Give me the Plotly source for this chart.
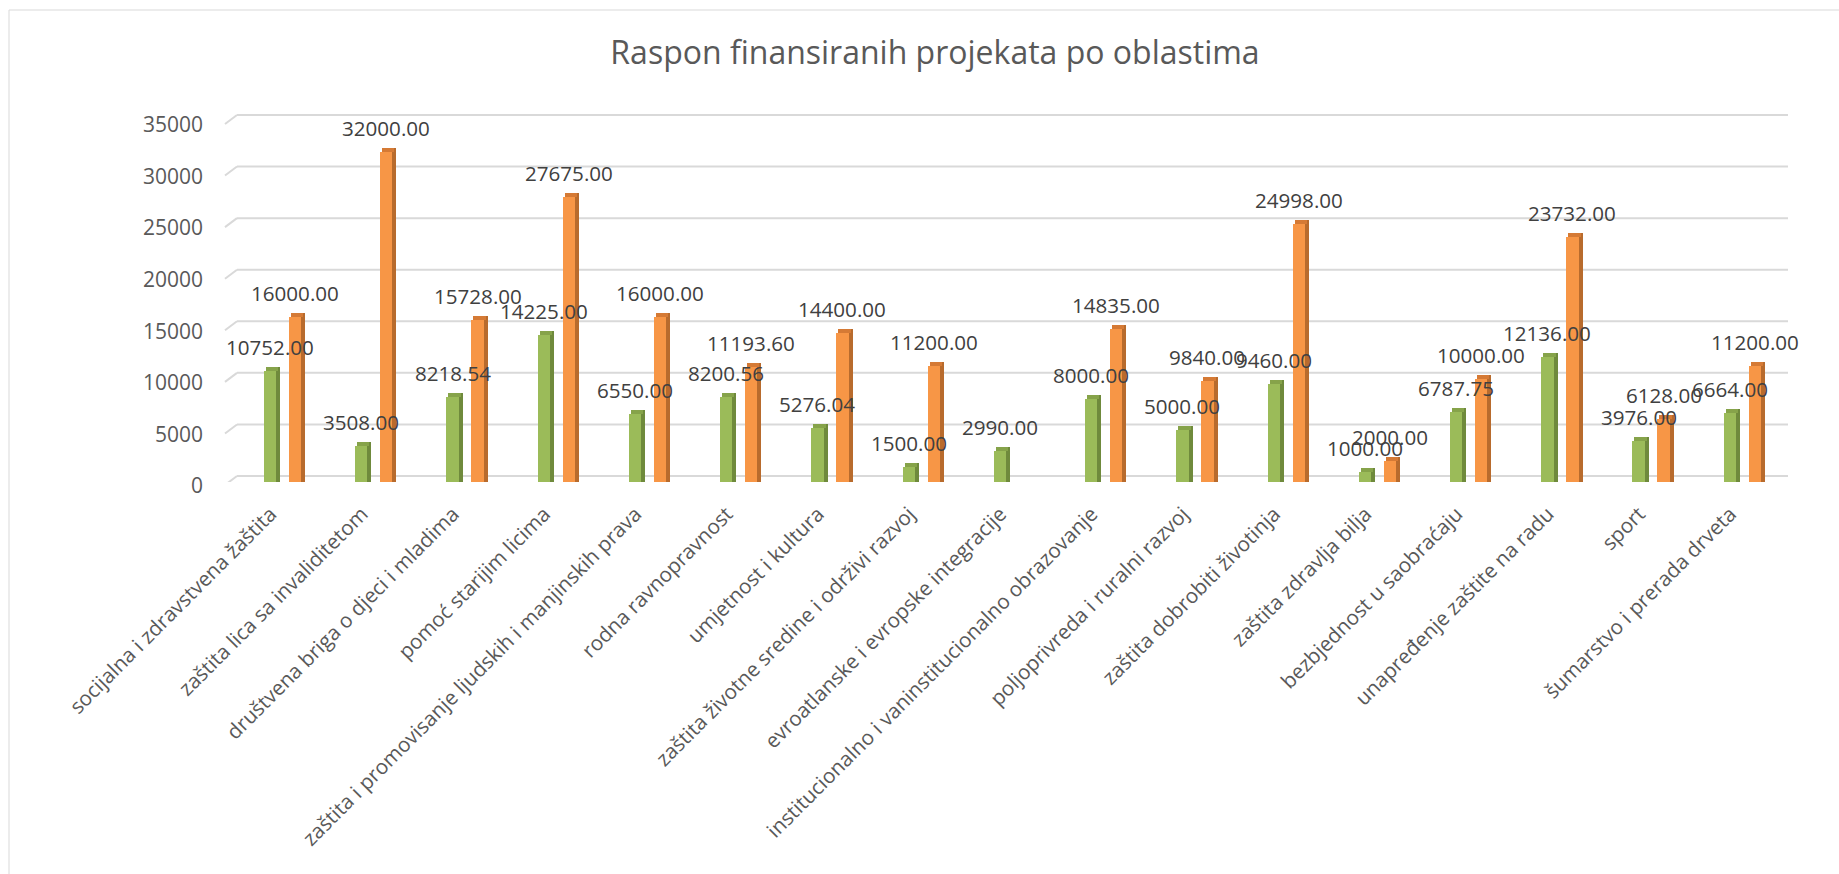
import plotly.graph_objects as go

categories = [
    "socijalna i zdravstvena žaštita",
    "zaštita lica sa invaliditetom",
    "društvena briga o djeci i mladima",
    "pomoć starijim licima",
    "zaštita i promovisanje ljudskih i manjinskih prava",
    "rodna ravnopravnost",
    "umjetnost i kultura",
    "zaštita životne sredine i održivi razvoj",
    "evroatlanske i evropske integracije",
    "institucionalno i vaninstitucionalno obrazovanje",
    "poljoprivreda i ruralni razvoj",
    "zaštita dobrobiti životinja",
    "zaštita zdravlja bilja",
    "bezbjednost u saobraćaju",
    "unapređenje zaštite na radu",
    "sport",
    "šumarstvo i prerada drveta",
]
min_values = [10752.00, 3508.00, 8218.54, 14225.00, 6550.00, 8200.56, 5276.04, 1500.00,
              2990.00, 8000.00, 5000.00, 9460.00, 1000.00, 6787.75, 12136.00, 3976.00, 6664.00]
max_values = [16000.00, 32000.00, 15728.00, 27675.00, 16000.00, 11193.60, 14400.00, 11200.00,
              None, 14835.00, 9840.00, 24998.00, 2000.00, 10000.00, 23732.00, 6128.00, 11200.00]
y_ticks = [0, 5000, 10000, 15000, 20000, 25000, 30000, 35000]

# ---- geometry (pixels) ----
W, H = 1839, 874
ML, MR, MT, MB = 237, 51, 112, 392
PLOT_W = W - ML - MR
PLOT_H = H - MT - MB
N = len(categories)
CAT_PX = PLOT_W / N
PX = 1.0 / CAT_PX                 # one pixel in category units
UNITS_PER_PX = 35000 / 361.0      # value units per pixel
Y_MAX = PLOT_H * UNITS_PER_PX
BACK = 6 * UNITS_PER_PX           # back wall offset (3D look)
CAP = 4 * UNITS_PER_PX
FRONT_W, SIDE_W = 12.3, 4.0
FONT = "Open Sans, Noto Sans, sans-serif"
TXT = "#595959"

series = [
    ("Najmanji iznos", min_values, -18.7, "#9BBB59", "#6F8A3C", "#86A34A"),
    ("Najveći iznos", max_values, 6.3, "#F79646", "#B86B2D", "#D57A35"),
]

xs = list(range(N))
fig = go.Figure()
annotations = []
for name, vals, off, c_front, c_side, c_cap in series:
    fig.add_trace(go.Bar(
        x=xs, y=vals, name=name, offset=off * PX, width=FRONT_W * PX,
        marker=dict(color=c_front, line=dict(width=0)), hoverinfo="skip", showlegend=False))
    fig.add_trace(go.Bar(
        x=xs, y=[None if v is None else v + CAP for v in vals], offset=(off + FRONT_W) * PX,
        width=SIDE_W * PX, marker=dict(color=c_side, line=dict(width=0)),
        hoverinfo="skip", showlegend=False))
    fig.add_trace(go.Bar(
        x=xs, y=[None if v is None else CAP for v in vals], base=[0 if v is None else v for v in vals],
        offset=(off + 2) * PX, width=FRONT_W * PX, marker=dict(color=c_cap, line=dict(width=0)),
        hoverinfo="skip", showlegend=False))
    for i, v in enumerate(vals):
        if v is None:
            continue
        annotations.append(dict(
            x=i + (off + FRONT_W / 2) * PX, y=v, xref="x", yref="y", text=f"{v:.2f}",
            showarrow=False, yanchor="middle", xanchor="center", yshift=24,
            font=dict(family=FONT, size=20.6, color="#404040")))

shapes = []
for t in y_ticks:
    shapes.append(dict(type="line", xref="paper", yref="y", x0=0, x1=1, y0=t + BACK, y1=t + BACK,
                       line=dict(color="#D9D9D9", width=2), layer="below"))
    shapes.append(dict(type="line", xref="paper", yref="y", x0=-12 * PX / N, x1=0,
                       y0=t - 3 * UNITS_PER_PX, y1=t + BACK,
                       line=dict(color="#D9D9D9", width=2), layer="below"))
# chart frame
shapes.append(dict(type="line", xref="paper", yref="paper", x0=(9 - ML) / PLOT_W, x1=1.2,
                   y0=(H - MB - 10) / PLOT_H, y1=(H - MB - 10) / PLOT_H,
                   line=dict(color="#D9D9D9", width=1)))
shapes.append(dict(type="line", xref="paper", yref="paper", x0=(9 - ML) / PLOT_W, x1=(9 - ML) / PLOT_W,
                   y0=(H - MB - 10) / PLOT_H, y1=-2,
                   line=dict(color="#D9D9D9", width=1)))

fig.update_layout(
    width=W, height=H, autosize=False,
    margin=dict(l=ML, r=MR, t=MT, b=MB, pad=0),
    paper_bgcolor="white", plot_bgcolor="white",
    barmode="overlay", bargap=0,
    showlegend=False,
    title=dict(text="Raspon finansiranih projekata po oblastima", x=935 / W, xref="container",
               xanchor="center", y=1 - 53 / H, yref="container", yanchor="middle",
               font=dict(family=FONT, size=32, color=TXT)),
    xaxis=dict(range=[-0.5, N - 0.5], tickmode="array", tickvals=xs, ticktext=categories,
               tickangle=-45, showgrid=False, zeroline=False, showline=False, ticks="",
               ticklabelstandoff=15, ticklabelshift=-12, automargin=False,
               tickfont=dict(family=FONT, size=20.6, color=TXT)),
    yaxis=dict(range=[0, Y_MAX], tickmode="array", tickvals=y_ticks, ticktext=[str(t) for t in y_ticks],
               showgrid=False, zeroline=False, showline=False, ticks="", ticklabelstandoff=33,
               ticklabelshift=4, automargin=False,
               tickfont=dict(family=FONT, size=21, color=TXT)),
    shapes=shapes,
    annotations=annotations,
)

fig.write_html("out.html", config={"displayModeBar": False},
               post_script="document.body.style.margin='0';document.body.style.overflow='hidden';")
